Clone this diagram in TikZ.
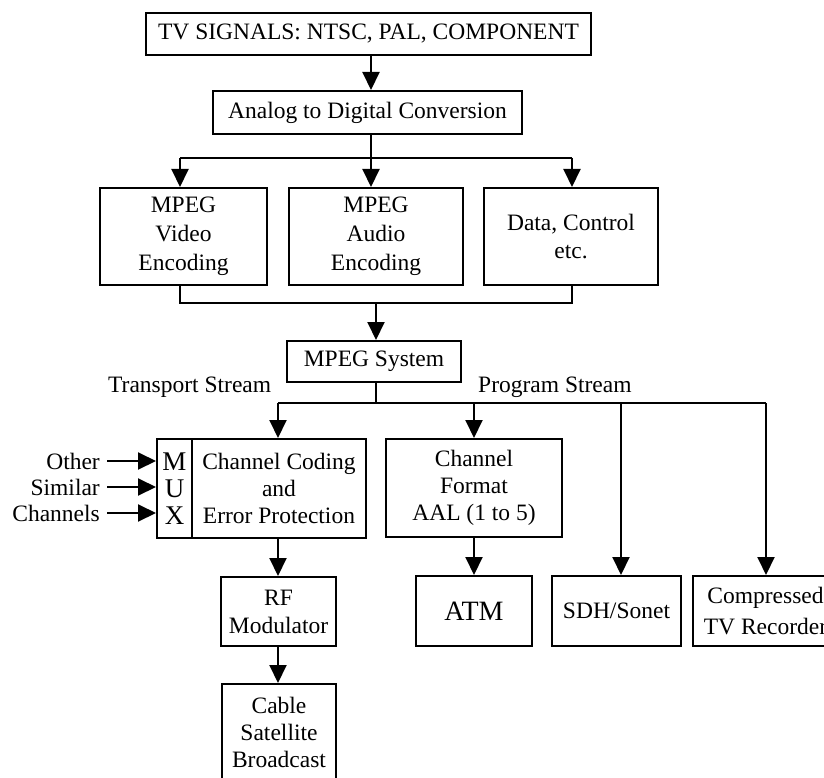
\documentclass[tikz,border=0pt]{standalone}
\usepackage{fontspec}
\setmainfont{Liberation Serif}
\usetikzlibrary{arrows.meta}
\begin{document}
\begin{tikzpicture}[x=1pt,y=-1pt,
  box/.style={draw, line width=2pt, inner sep=0pt, align=center,
    font=\fontsize{23.5}{28}\selectfont},
  lbl/.style={inner sep=0pt, font=\fontsize{23.5}{28}\selectfont},
  ln/.style={line width=2pt},
  arr/.style={line width=2pt, -{Triangle[length=18pt,width=17pt]}}]
\useasboundingbox (0,0) rectangle (824,778);
% nodes
\node[box, minimum width=445pt, minimum height=42pt] (tv) at (368.5,34) {TV SIGNALS: NTSC, PAL, COMPONENT};
\node[box, minimum width=309pt, minimum height=43pt] (adc) at (367.5,112.5) {Analog to Digital Conversion};
\node[box, minimum width=167pt, minimum height=97pt, font=\fontsize{23.5}{29}\selectfont] (vid) at (183.5,236.5) {MPEG\\Video\\Encoding};
\node[box, minimum width=174pt, minimum height=97pt, font=\fontsize{23.5}{29}\selectfont] (aud) at (376,236.5) {MPEG\\Audio\\Encoding};
\node[box, minimum width=174pt, minimum height=97pt, font=\fontsize{23.5}{28}\selectfont] (dat) at (571,236.5) {Data, Control\\etc.};
\node[box, minimum width=174pt, minimum height=41pt] (sys) at (374,361.5) {MPEG System};
\node[lbl, anchor=base west] (ts) at (108,392) {Transport Stream};
\node[lbl, anchor=base west] (ps) at (478,392) {Program Stream};
\node[box, minimum width=35pt, minimum height=99pt, font=\fontsize{27}{27}\selectfont] (mux) at (174.5,488.5) {M\\U\\X};
\node[box, minimum width=174pt, minimum height=99pt, font=\fontsize{23.5}{27}\selectfont] (cc) at (279,488.5) {Channel Coding\\and\\Error Protection};
\node[box, minimum width=176pt, minimum height=98pt, font=\fontsize{23.5}{27}\selectfont] (cf) at (474,488) {Channel\\Format\\AAL (1 to 5)};
\node[box, minimum width=115pt, minimum height=69pt] (rf) at (278.5,611.5) {RF\\Modulator};
\node[box, minimum width=114pt, minimum height=96pt, font=\fontsize{23.5}{27}\selectfont] (cab) at (279,732) {Cable\\Satellite\\Broadcast};
\node[box, minimum width=116pt, minimum height=70pt, font=\fontsize{28}{30}\selectfont] (atm) at (474,611) {ATM};
\node[box, minimum width=129pt, minimum height=70pt] (sdh) at (616.5,611) {SDH/Sonet};
\node[box, minimum width=145pt, minimum height=70pt, font=\fontsize{23.5}{31}\selectfont] (cmp) at (765.5,611) {Compressed\\TV Recorder};
\node[lbl, anchor=east] (o1) at (100,461) {Other};
\node[lbl, anchor=east] (o2) at (100,487) {Similar};
\node[lbl, anchor=east] (o3) at (100,513) {Channels};
% coordinates
\coordinate (b1) at (371,158);
\coordinate (vL) at (180,158);
\coordinate (dR) at (572,158);
\coordinate (m) at (376,303);
\coordinate (s) at (376,403);
\coordinate (sL) at (278,403);
\coordinate (sR) at (766,403);
\coordinate (sd) at (621,403);
% connectors
\draw[arr] (tv.south -| b1) -- (b1 |- adc.north);
\draw[ln] (adc.south -| b1) -- (b1);
\draw[ln] (vL) -- (dR);
\draw[arr] (b1) -- (b1 |- aud.north);
\draw[arr] (vL) -- (vL |- vid.north);
\draw[arr] (dR) -- (dR |- dat.north);
\draw[ln] (vL |- vid.south) -- (vL |- m) -- (dR |- m) -- (dR |- dat.south);
\draw[arr] (m) -- (m |- sys.north);
\draw[ln] (sys.south -| s) -- (s);
\draw[ln] (sL) -- (sR);
\draw[arr] (sL) -- (sL |- cc.north);
\draw[arr] (cf.north |- s) -- (cf.north);
\draw[arr] (sd) -- (sd |- sdh.north);
\draw[arr] (sR) -- (sR |- cmp.north);
\draw[arr] (sL |- cc.south) -- (sL |- rf.north);
\draw[arr] (sL |- rf.south) -- (sL |- cab.north);
\draw[arr] (cf.south) -- (cf.south |- atm.north);
\draw[arr, shorten <=7pt] (o1.east) -- (o1.east -| mux.west);
\draw[arr, shorten <=7pt] (o2.east) -- (o2.east -| mux.west);
\draw[arr, shorten <=7pt] (o3.east) -- (o3.east -| mux.west);
\end{tikzpicture}
\end{document}
